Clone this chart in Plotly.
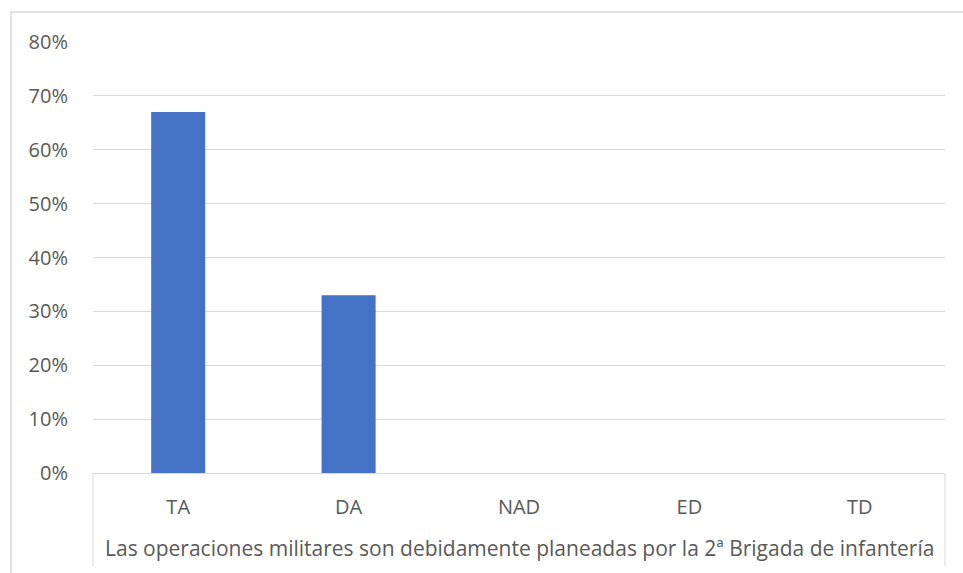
import plotly.graph_objects as go

categories = ["TA", "DA", "NAD", "ED", "TD"]
values = [0.67, 0.33, 0.0, 0.0, 0.0]
group_label = "Las operaciones militares son debidamente planeadas por la 2ª Brigada de infantería"
y_ticks = [0, 0.1, 0.2, 0.3, 0.4, 0.5, 0.6, 0.7, 0.8]

W, H = 963, 573
L, R, T, B = 93, 18, 42, 100
pw, ph = W - L - R, H - T - B

def px(x):
    return (x - L) / pw

def py(y):
    return (H - B - y) / ph

font_family = "Open Sans, Liberation Sans, sans-serif"
grey = "#595959"
line_c = "#d9d9d9"

fig = go.Figure(go.Bar(x=categories, y=values, marker_color="#4472c4",
                       marker_line_width=0, width=0.317))

fig.update_layout(
    width=W, height=H,
    margin=dict(l=L, r=R, t=T, b=B, pad=0),
    paper_bgcolor="white", plot_bgcolor="white",
    showlegend=False,
    font=dict(family=font_family, color=grey, size=20),
)
fig.update_yaxes(range=[0, 0.8], tickvals=y_ticks, tickformat=".0%",
                 showgrid=True, gridcolor=line_c, gridwidth=1,
                 zeroline=False, showline=False, ticks="",
                 ticklabelstandoff=24, tickfont=dict(size=20, color=grey))
fig.update_xaxes(showline=True, linecolor=line_c, linewidth=1, ticks="",
                 showgrid=False, ticklabelstandoff=16,
                 tickfont=dict(size=20, color=grey))

shapes = []
for xp in (0, 1):
    shapes.append(dict(type="line", xref="paper", yref="paper",
                       x0=xp, x1=xp, y0=0, y1=py(566),
                       line=dict(color=line_c, width=1)))
shapes.append(dict(type="rect", xref="paper", yref="paper",
                   x0=px(11), x1=px(975), y0=py(585), y1=py(12),
                   line=dict(color=line_c, width=1.5), fillcolor="rgba(0,0,0,0)"))
fig.update_layout(shapes=shapes)

fig.add_annotation(text=group_label, xref="paper", yref="paper",
                   x=0.5, y=py(548), showarrow=False,
                   font=dict(size=21, color=grey, family=font_family),
                   xanchor="center", yanchor="middle")

fig.write_html("out.html", config={"displayModeBar": False},
               post_script="document.body.style.margin='0';document.body.style.overflow='hidden';")
